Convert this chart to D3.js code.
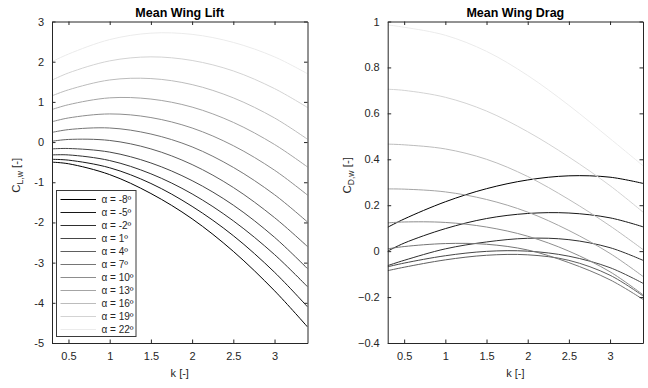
<!DOCTYPE html>
<html>
<head>
<meta charset="utf-8">
<script src="https://cdn.jsdelivr.net/npm/d3@7"></script>
<style>
  html, body { margin: 0; padding: 0; background: #fff; }
  svg { display: block; font-family: "Liberation Sans", Arial, Helvetica, sans-serif; }
</style>
</head>
<body>
<svg id="chart" width="648" height="388"></svg>
<script>
// Reduced frequency samples shared by every curve
const kValues = [0.3, 0.5, 1.0, 1.5, 2.0, 2.5, 3.0, 3.4];

// Angles of attack (deg), one curve each
const alphas = [-8, -5, -2, 1, 4, 7, 10, 13, 16, 19, 22];

// Mean wing lift coefficient C_L,w for each angle (rows follow alphas)
const liftSeries = [
  [-0.50, -0.54, -0.81, -1.28, -1.91, -2.72, -3.70, -4.60],
  [-0.43, -0.45, -0.64, -1.03, -1.60, -2.33, -3.24, -4.10],
  [-0.32, -0.32, -0.46, -0.79, -1.29, -1.96, -2.80, -3.60],
  [-0.17, -0.16, -0.25, -0.52, -0.96, -1.57, -2.37, -3.15],
  [ 0.02,  0.065, 0.04, -0.17, -0.56, -1.13, -1.88, -2.60],
  [ 0.24,  0.31,  0.35,  0.20, -0.12, -0.63, -1.31, -1.99],
  [ 0.505, 0.60,  0.70,  0.61,  0.35, -0.09, -0.70, -1.32],
  [ 0.81,  0.93,  1.10,  1.07,  0.87,  0.49, -0.06, -0.62],
  [ 1.15,  1.30,  1.545, 1.58,  1.43,  1.10,  0.60,  0.07],
  [ 1.54,  1.72,  2.02,  2.12,  2.03,  1.77,  1.33,  0.86],
  [ 2.00,  2.19,  2.55,  2.71,  2.68,  2.48,  2.12,  1.70]
];

// Mean wing drag coefficient C_D,w for each angle (rows follow alphas)
const dragSeries = [
  [ 0.104,  0.14,   0.215,  0.272,  0.31,   0.328,  0.322,  0.295],
  [ 0.0,    0.035,  0.098,  0.142,  0.164,  0.166,  0.145,  0.106],
  [-0.063, -0.04,   0.01,   0.04,   0.056,  0.05,   0.015, -0.04 ],
  [-0.068, -0.052, -0.02,  -0.001,  0.0,   -0.022, -0.072, -0.14 ],
  [-0.085, -0.07,  -0.038, -0.018, -0.016, -0.04,  -0.105, -0.195],
  [ 0.01,   0.02,   0.033,  0.03,   0.005, -0.05,  -0.125, -0.21 ],
  [ 0.123,  0.127,  0.125,  0.105,  0.065,  0.0,   -0.09,  -0.19 ],
  [ 0.271,  0.27,   0.258,  0.225,  0.17,   0.09,  -0.01,  -0.11 ],
  [ 0.466,  0.463,  0.445,  0.40,   0.325,  0.225,  0.11,   0.007],
  [ 0.705,  0.70,   0.67,   0.61,   0.52,   0.41,   0.285,  0.17 ],
  [ 0.985,  0.975,  0.94,   0.87,   0.765,  0.635,  0.49,   0.372]
];

// Tick values
const kTicks = [0.5, 1, 1.5, 2, 2.5, 3];
const liftTicks = [-5, -4, -3, -2, -1, 0, 1, 2, 3];
const dragTicks = [-0.4, -0.2, 0, 0.2, 0.4, 0.6, 0.8, 1];

// Grey ramp: darkest for the lowest angle, palest for the highest
const lineColors = d3.range(alphas.length).map(i => {
  const g = Math.round(255 * 0.92 * i / (alphas.length - 1));
  return d3.rgb(g, g, g).formatHex();
});

const svg = d3.select("#chart");
const axisColor = "#262626";
const plotTop = 21.5, plotBottom = 343;

function panel(opts) {
  const x = d3.scaleLinear().domain([0.3, 3.4]).range([opts.left, opts.right]);
  const y = d3.scaleLinear().domain(opts.yDomain).range([plotBottom, plotTop]);
  const g = svg.append("g");

  const clipId = "clip-" + opts.id;
  svg.append("clipPath").attr("id", clipId)
    .append("rect").attr("x", opts.left).attr("y", plotTop)
    .attr("width", opts.right - opts.left).attr("height", plotBottom - plotTop);

  // Curves
  const line = d3.line()
    .x((d, i) => x(kValues[i]))
    .y(d => y(d))
    .curve(d3.curveCatmullRom.alpha(0.5));
  g.append("g").attr("clip-path", `url(#${clipId})`)
    .selectAll("path").data(opts.series).join("path")
    .attr("d", line)
    .attr("fill", "none")
    .attr("stroke", (d, i) => lineColors[i])
    .attr("stroke-width", 1);

  // Axes with inward ticks on all four sides
  const tickLen = 3.5;
  const styleAxis = sel => {
    sel.select(".domain").attr("stroke", axisColor).attr("stroke-width", 1);
    sel.selectAll(".tick line").attr("stroke", axisColor).attr("stroke-width", 1);
    sel.selectAll(".tick text").attr("fill", axisColor)
      .attr("font-size", 11).attr("font-family", "Liberation Sans, Arial, sans-serif");
  };
  const fmtK = d => String(d);
  g.append("g").attr("transform", `translate(0,${plotBottom})`)
    .call(d3.axisBottom(x).tickValues(kTicks).tickFormat(fmtK)
      .tickSizeInner(-tickLen).tickSizeOuter(0).tickPadding(9))
    .call(styleAxis);
  g.append("g").attr("transform", `translate(0,${plotTop})`)
    .call(d3.axisTop(x).tickValues(kTicks).tickFormat("")
      .tickSizeInner(-tickLen).tickSizeOuter(0))
    .call(styleAxis);
  g.append("g").attr("transform", `translate(${opts.left},0)`)
    .call(d3.axisLeft(y).tickValues(opts.yTicks).tickFormat(opts.yFormat)
      .tickSizeInner(-tickLen).tickSizeOuter(0).tickPadding(8))
    .call(styleAxis);
  g.append("g").attr("transform", `translate(${opts.right},0)`)
    .call(d3.axisRight(y).tickValues(opts.yTicks).tickFormat("")
      .tickSizeInner(-tickLen).tickSizeOuter(0))
    .call(styleAxis);

  // Title
  g.append("text")
    .attr("x", (opts.left + opts.right) / 2).attr("y", 17)
    .attr("text-anchor", "middle").attr("font-weight", "bold")
    .attr("font-size", 12.5).attr("fill", "#000")
    .text(opts.title);

  // x label
  g.append("text")
    .attr("x", (opts.left + opts.right) / 2).attr("y", 377)
    .attr("text-anchor", "middle").attr("font-size", 11).attr("fill", axisColor)
    .text("k [-]");

  // y label with subscript
  const yl = g.append("text")
    .attr("transform", `translate(${opts.yLabelX},${(plotTop + plotBottom) / 2 - 7}) rotate(-90)`)
    .attr("text-anchor", "middle").attr("font-size", 11.5).attr("fill", axisColor);
  yl.append("tspan").text("C");
  yl.append("tspan").attr("font-size", 8.5).attr("dy", 3).text(opts.sub);
  yl.append("tspan").attr("dy", -3).text(" [-]");

  return { x, y, g };
}

const fmtLift = d => String(d);
const fmtDrag = d => d3.format(".1f")(d).replace(/^(-?)0\.0$/, "0").replace(/^1\.0$/, "1");

panel({ id: "lift", left: 52, right: 307.5, yDomain: [-5, 3], yTicks: liftTicks,
  yFormat: fmtLift, series: liftSeries, title: "Mean Wing Lift", sub: "L,w", yLabelX: 20 });
panel({ id: "drag", left: 387.7, right: 643, yDomain: [-0.4, 1], yTicks: dragTicks,
  yFormat: fmtDrag, series: dragSeries, title: "Mean Wing Drag", sub: "D,w", yLabelX: 351 });

// Legend inside the lift panel
const legend = svg.append("g");
const lgX = 56.5, lgY = 190.5, lgW = 79.5, lgH = 146, rowH = 13;
legend.append("rect").attr("x", lgX).attr("y", lgY).attr("width", lgW).attr("height", lgH)
  .attr("fill", "#fff").attr("stroke", "#3a3a3a").attr("stroke-width", 1);
const rows = legend.selectAll("g.row").data(alphas).join("g").attr("class", "row")
  .attr("transform", (d, i) => `translate(0,${lgY + 9 + i * rowH})`);
rows.append("line").attr("x1", lgX + 4).attr("x2", lgX + 39.5)
  .attr("stroke", (d, i) => lineColors[i]).attr("stroke-width", 1);
rows.append("text").attr("x", lgX + 45).attr("y", 3.5)
  .attr("font-size", 10).attr("fill", axisColor)
  .text(d => `α = ${d}º`);
</script>
</body>
</html>
